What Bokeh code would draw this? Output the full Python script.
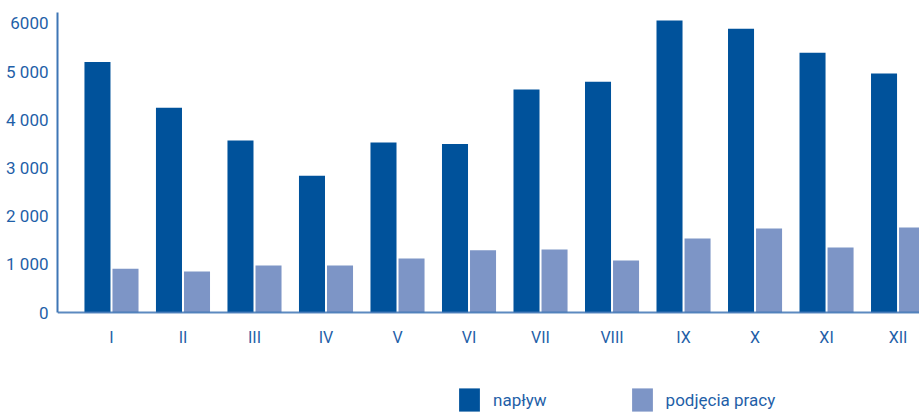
from bokeh.plotting import figure
from bokeh.models import ColumnDataSource, Range1d, FixedTicker, Legend, LegendItem
from bokeh.transform import dodge
from bokeh.embed import file_html
from bokeh.resources import INLINE

months = ["I", "II", "III", "IV", "V", "VI", "VII", "VIII", "IX", "X", "XI", "XII"]
naplyw = [5200, 4250, 3570, 2840, 3530, 3500, 4630, 4790, 6060, 5890, 5390, 4960]
podjecia = [910, 850, 975, 975, 1120, 1290, 1310, 1080, 1535, 1745, 1350, 1765]
y_ticks = [0, 1000, 2000, 3000, 4000, 5000, 6000]
y_tick_labels = ["0", "1 000", "2 000", "3 000", "4 000", "5 000", "6000"]

FONT = "Roboto"
TEXT_COLOR = "#1f5fa8"
DARK = "#00529b"
LIGHT = "#7d95c6"
AXIS = "#3f76b5"

src = ColumnDataSource(dict(x=list(range(len(months))), naplyw=naplyw, podjecia=podjecia))

p = figure(width=919, height=415, output_backend="svg", toolbar_location=None,
           x_range=Range1d(-0.755, 11.30), y_range=Range1d(-2138, 6228),
           min_border_left=57, min_border_right=0, min_border_top=12, min_border_bottom=0)
p.outline_line_color = None
p.grid.visible = False
p.background_fill_color = "white"
p.border_fill_color = "white"

r1 = p.vbar(x=dodge("x", -0.196), top="naplyw", width=0.364, source=src,
            fill_color=DARK, line_color=None)
r2 = p.vbar(x=dodge("x", 0.196), top="podjecia", width=0.364, source=src,
            fill_color=LIGHT, line_color=None)

xa = p.xaxis[0]
xa.fixed_location = 0
xa.ticker = FixedTicker(ticks=list(range(len(months))))
xa.major_label_overrides = {i: m for i, m in enumerate(months)}
xa.major_tick_line_color = None
xa.major_tick_out = 0
xa.major_tick_in = 0
xa.minor_tick_line_color = None
xa.axis_line_color = AXIS
xa.axis_line_width = 2
xa.axis_line_alpha = 0.85
xa.major_label_standoff = 15
xa.major_label_text_font = FONT
xa.major_label_text_font_size = "16px"
xa.major_label_text_color = TEXT_COLOR

ya = p.yaxis[0]
ya.bounds = (0, 6228)
ya.ticker = FixedTicker(ticks=y_ticks)
ya.major_label_overrides = {t: l for t, l in zip(y_ticks, y_tick_labels)}
ya.major_tick_line_color = None
ya.major_tick_out = 0
ya.major_tick_in = 0
ya.minor_tick_line_color = None
ya.axis_line_color = AXIS
ya.axis_line_width = 2
ya.major_label_standoff = 9
ya.major_label_text_font = FONT
ya.major_label_text_font_size = "17px"
ya.major_label_text_color = TEXT_COLOR

legend = Legend(items=[LegendItem(label="napływ", renderers=[r1]),
                       LegendItem(label="podjęcia pracy", renderers=[r2])],
                orientation="horizontal", location=(399, 1),
                glyph_width=26, glyph_height=29, label_standoff=11, spacing=82,
                padding=0, margin=0, border_line_color=None, background_fill_alpha=0,
                label_text_font=FONT, label_text_font_size="17px", label_text_color=TEXT_COLOR)
p.add_layout(legend, "center")

open("out.html", "w").write(file_html(p, INLINE))
